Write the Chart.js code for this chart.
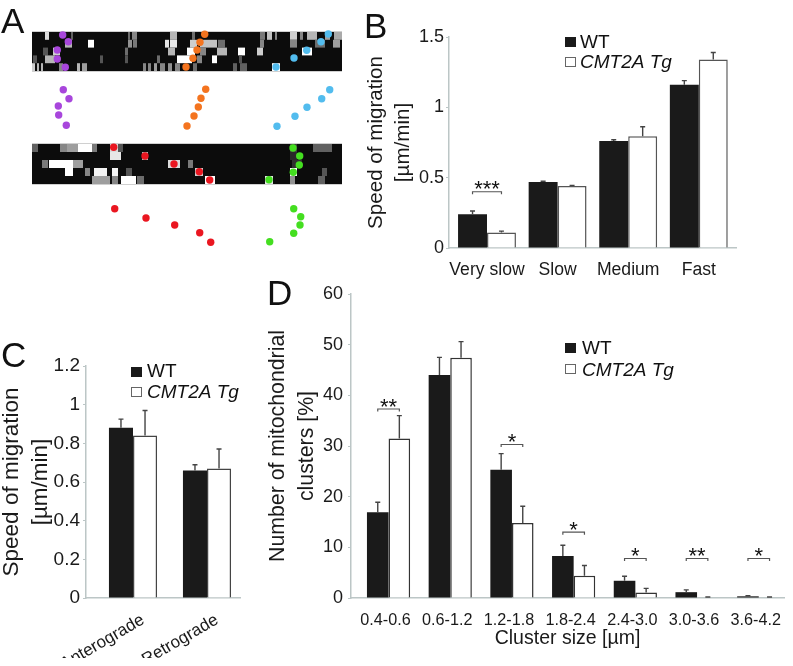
<!DOCTYPE html>
<html>
<head>
<meta charset="utf-8">
<script src="https://cdn.jsdelivr.net/npm/chart.js@4/dist/chart.umd.min.js"></script>
<style>
body { margin: 0; background: #fff; }
canvas { position: absolute; left: 0; top: 0; }
</style>
</head>
<body>
<canvas id="panelA" width="793" height="666"></canvas>
<canvas id="panelB" width="793" height="666"></canvas>
<canvas id="panelC" width="793" height="666"></canvas>
<canvas id="panelD" width="793" height="666"></canvas>
<script>
// panel B
const bCategories = ['Very slow', 'Slow', 'Medium', 'Fast'];
const bWT = [0.24, 0.47, 0.76, 1.16];
const bTg = [0.11, 0.44, 0.795, 1.34];
const bWTTop = [0.263, 0.475, 0.77, 1.19];
const bTgTop = [0.12, 0.445, 0.862, 1.39];
const bTicks = [0, 0.5, 1, 1.5];
const bSigCats = [0];
const bSigLevels = [0.4];
const bSigLabels = ['***'];

// panel C
const cCategories = ['Anterograde', 'Retrograde'];
const cWT = [0.88, 0.66];
const cTg = [0.84, 0.67];
const cWTTop = [0.925, 0.689];
const cTgTop = [0.97, 0.771];
const cTicks = [0, 0.2, 0.4, 0.6, 0.8, 1, 1.2];

// panel D
const dCategories = ['0.4-0.6', '0.6-1.2', '1.2-1.8', '1.8-2.4', '2.4-3.0', '3.0-3.6', '3.6-4.2'];
const dWT = [16.9, 44, 25.3, 8.3, 3.4, 1.15, 0.33];
const dTg = [31.5, 47.4, 14.8, 4.4, 1.1, 0.1, 0.1];
const dWTTop = [18.9, 47.5, 28.5, 10.4, 4.3, 1.6, 0.45];
const dTgTop = [36, 50.6, 18.1, 6.4, 1.9, 0.2, 0.2];
const dTicks = [0, 10, 20, 30, 40, 50, 60];
const dSigCats = [0, 2, 3, 4, 5, 6];
const dSigLevels = [37.3, 30.3, 13, 7.8, 7.8, 7.8];
const dSigLabels = ['**', '*', '*', '*', '**', '*'];

// panel A, tracked dots: position along the axon, time
const purpleTop = [[30.7, 5], [36.3, 11.7], [25.3, 20], [25.3, 29], [33.3, 37.3]];
const purpleLow = [[31.3, 59.7], [37, 68.7], [26.3, 76], [26.7, 85], [34.3, 95.3]];
const orangeTop = [[172.7, 4.3], [168, 12.3], [165, 20], [161, 28.3], [154, 37]];
const orangeLow = [[173.7, 59.3], [169, 68.3], [166.3, 77], [162, 86], [155, 96]];
const blueTop = [[296.3, 4], [289, 11.7], [274.7, 20.3], [262, 28], [244, 37]];
const blueLow = [[297.7, 59.7], [289.7, 68.7], [275, 77.3], [263, 86.3], [245, 96.3]];
const redTop = [[81.7, 117.3], [113, 126], [142, 134], [167.3, 141.7], [177.7, 150]];
const redLow = [[82.7, 178.7], [114, 188], [142.7, 195], [167.7, 202.7], [178.7, 212.3]];
const greenTop = [[261, 118], [267.7, 126], [267.3, 135], [261.3, 142.3], [237, 149.7]];
const greenLow = [[261.7, 178.7], [268.7, 186.7], [268, 195], [261.7, 203.3], [237.7, 211.7]];

// kymograph cells: row, from, to, grey level
const kymoTopRows = [2, 9.8, 17.6, 25.4, 33.2, 41];
const kymoTop = [
  [0, 13, 17, .85], [0, 39, 41, .35], [0, 96, 98, .4], [0, 100, 105, .5], [0, 138, 145, .7], [0, 160, 163, .4], [0, 228, 233, .45], [0, 235, 240, .75], [0, 243, 245, .5], [0, 258, 265, .8], [0, 268, 271, .5], [0, 275, 285, .7], [0, 293, 298, .6], [0, 302, 310, .65],
  [1, 33, 40, .7], [1, 56, 62, 1], [1, 96, 100, .55], [1, 101, 105, .45], [1, 133, 137, .9], [1, 138, 145, .9], [1, 158, 165, .8], [1, 168, 185, .75], [1, 186, 193, .4], [1, 228, 232, .5], [1, 258, 265, .5], [1, 283, 293, .4], [1, 301, 308, .6],
  [2, 11, 16, .3], [2, 21, 28, .8], [2, 93, 96, .4], [2, 136, 143, .7], [2, 155, 163, 1], [2, 168, 174, .5], [2, 185, 195, .7], [2, 206, 213, 1], [2, 225, 231, .8], [2, 270, 280, 1],
  [3, 1, 5, .3], [3, 13, 23, .7], [3, 68, 71, .3], [3, 93, 96, .3], [3, 125, 128, .4], [3, 145, 160, 1], [3, 180, 185, 1], [3, 165, 170, .5], [3, 207, 210, .3],
  [4, 0, 3, .8], [4, 5, 7, .7], [4, 9, 11, .7], [4, 27, 31, .5], [4, 45, 48, .7], [4, 50, 55, .6], [4, 111, 114, .5], [4, 116, 119, .5], [4, 122, 125, .6], [4, 128, 133, .5], [4, 136, 140, .55], [4, 143, 148, .5], [4, 161, 165, .4], [4, 201, 205, .35], [4, 208, 215, .35], [4, 240, 248, 1]
];
const kymoLowRows = [114, 122, 130, 138, 146, 154];
const kymoLow = [
  [0, 0, 6, .35], [0, 28, 35, .5], [0, 35, 46, .6], [0, 46, 60, 1], [0, 60, 65, .45], [0, 78, 86, .85], [0, 86, 91, .3], [0, 258, 265, .2], [0, 281, 300, .35],
  [1, 78, 89, .9], [1, 110, 116, .7], [1, 258, 265, .12],
  [2, 10, 16, .45], [2, 17, 41, 1], [2, 41, 51, .6], [2, 136, 148, .85], [2, 156, 161, .45], [2, 260, 270, .15],
  [3, 33, 41, 1], [3, 53, 58, .5], [3, 62, 75, .95], [3, 80, 86, .95], [3, 94, 100, .3], [3, 163, 171, .8], [3, 258, 265, 1], [3, 290, 295, .3],
  [4, 60, 78, .6], [4, 80, 86, .5], [4, 89, 104, 1], [4, 105, 112, .4], [4, 173, 183, 1], [4, 233, 241, .9], [4, 258, 263, .55], [4, 286, 293, .35]
];

const fontName = '"Liberation Sans", Arial, sans-serif';
const inkColor = '#1a1a1a';
const axisColor = '#bcc6c6';
Chart.defaults.font.family = fontName;
Chart.defaults.color = inkColor;

function kymoPlugin() {
  return {
    id: 'kymo',
    beforeDatasetsDraw(chart) {
      const { ctx, scales: { x, y } } = chart;
      ctx.save();
      ctx.filter = 'blur(0.7px)';
      [[kymoTopRows, kymoTop], [kymoLowRows, kymoLow]].forEach(([rows, cells]) => {
        const top = y.getPixelForValue(rows[0]);
        const bottom = y.getPixelForValue(rows[rows.length - 1]);
        ctx.fillStyle = '#d0d0d0';
        ctx.fillRect(x.left, top - 1, x.width, bottom - top + 2);
        ctx.fillStyle = '#0c0c0c';
        ctx.fillRect(x.left, top, x.width, bottom - top);
        cells.forEach(([row, from, to, grey]) => {
          const level = Math.round(12 + grey * 243);
          ctx.fillStyle = `rgb(${level},${level},${level})`;
          const y0 = y.getPixelForValue(rows[row]);
          const y1 = y.getPixelForValue(rows[row + 1]);
          const x0 = x.getPixelForValue(from);
          ctx.fillRect(x0, y0, x.getPixelForValue(to) - x0, y1 - y0);
        });
      });
      ctx.restore();
    }
  };
}

// panel letter and hand drawn legend, both sit outside the chart area
function decorPlugin(p) {
  return {
    id: 'decor',
    afterDraw(chart) {
      const ctx = chart.ctx;
      ctx.save();
      ctx.fillStyle = '#111';
      ctx.font = `35px ${fontName}`;
      ctx.fillText(p.letter, p.letterX, p.letterY);
      if (p.legend) {
        const l = p.legend;
        ctx.fillStyle = inkColor;
        ctx.fillRect(l.x, l.y1, 11, 10);
        ctx.fillStyle = '#fff';
        ctx.strokeStyle = '#666';
        ctx.lineWidth = 1;
        ctx.fillRect(l.x, l.y2, 10.5, 10);
        ctx.strokeRect(l.x + .5, l.y2 + .5, 10, 9);
        ctx.fillStyle = '#111';
        ctx.font = `${l.size}px ${fontName}`;
        ctx.fillText('WT', l.textX, l.base1);
        ctx.font = `italic ${l.size}px ${fontName}`;
        ctx.fillText('CMT2A Tg', l.textX, l.base2);
      }
      ctx.restore();
    }
  };
}

// axis lines start and stop where the figure has them, not at the chart area
function axisPlugin(p) {
  return {
    id: 'axisSpan',
    afterLayout(chart) {
      const { x, y } = chart.scales;
      const shift = p.axisLeft - chart.chartArea.left;
      y.left += shift;
      y.right += shift;
      x.left = p.axisLeft;
      x.right = p.axisRight;
    }
  };
}

function errorPlugin(tops) {
  return {
    id: 'errorBars',
    afterDatasetsDraw(chart) {
      const { ctx, scales: { y } } = chart;
      ctx.save();
      ctx.strokeStyle = '#444';
      ctx.lineWidth = 1.4;
      tops.forEach((series, d) => {
        chart.getDatasetMeta(d).data.forEach((bar, i) => {
          const yTop = y.getPixelForValue(series[i]);
          ctx.beginPath();
          ctx.moveTo(bar.x, bar.y);
          ctx.lineTo(bar.x, yTop);
          ctx.moveTo(bar.x - 2.5, yTop);
          ctx.lineTo(bar.x + 2.5, yTop);
          ctx.stroke();
        });
      });
      ctx.restore();
    }
  };
}

function sigPlugin(cats, levels, labels) {
  return {
    id: 'sigBrackets',
    afterDatasetsDraw(chart) {
      const { ctx, scales: { y } } = chart;
      ctx.save();
      cats.forEach((cat, i) => {
        const x0 = chart.getDatasetMeta(0).data[cat].x;
        const x1 = chart.getDatasetMeta(1).data[cat].x;
        const yy = y.getPixelForValue(levels[i]);
        ctx.strokeStyle = '#555';
        ctx.lineWidth = 1.2;
        ctx.beginPath();
        ctx.moveTo(x0, yy + 2.5);
        ctx.lineTo(x0, yy);
        ctx.lineTo(x1, yy);
        ctx.lineTo(x1, yy + 2.5);
        ctx.stroke();
        ctx.fillStyle = '#111';
        ctx.font = `22px ${fontName}`;
        ctx.textAlign = 'center';
        ctx.fillText(labels[i], (x0 + x1) / 2, yy + 4.5);
      });
      ctx.restore();
    }
  };
}

function barPanel(id, p) {
  const plugins = [axisPlugin(p), errorPlugin([p.wtTop, p.tgTop]), decorPlugin(p)];
  if (p.sig) plugins.push(sigPlugin(p.sig[0], p.sig[1], p.sig[2]));
  return new Chart(document.getElementById(id), {
    type: 'bar',
    data: {
      labels: p.categories,
      datasets: [
        { label: 'WT', data: p.wt, backgroundColor: inkColor, borderWidth: 0 },
        { label: 'CMT2A Tg', data: p.tg, backgroundColor: '#fff', borderColor: p.tgEdge, borderWidth: 1.5 }
      ]
    },
    plugins,
    options: {
      responsive: false,
      animation: false,
      events: [],
      categoryPercentage: p.groupShare,
      barPercentage: 1,
      layout: { padding: { left: p.areaLeft - p.yWidth, right: 793 - p.areaRight, top: p.areaTop, bottom: 666 - p.areaBottom - p.xHeight } },
      plugins: { legend: { display: false }, tooltip: { enabled: false } },
      scales: {
        x: {
          afterFit(s) { s.height = p.xHeight; },
          grid: { display: false },
          border: { color: axisColor, width: 1.5 },
          ticks: { font: { size: p.xSize }, padding: p.xPad, autoSkip: false, maxRotation: p.rotate, minRotation: p.rotate, labelOffset: p.labelOffset, color: inkColor },
          title: p.xTitle ? { display: true, text: p.xTitle, font: { size: 19.5 }, padding: 0, color: inkColor } : { display: false }
        },
        y: {
          min: p.ticks[0],
          max: p.ticks[p.ticks.length - 1],
          afterFit(s) { s.width = p.yWidth; },
          afterBuildTicks(s) { s.ticks = p.ticks.map(v => ({ value: v })); },
          grid: { drawOnChartArea: false, tickLength: 3, tickColor: axisColor, tickWidth: 1.2 },
          border: { color: axisColor, width: 1.5 },
          ticks: { font: { size: p.ySize }, padding: p.yPad, callback: v => String(v), color: inkColor },
          title: { display: true, text: p.yTitle, font: { size: p.titleSize, lineHeight: p.titleLine }, padding: 0, color: inkColor }
        }
      }
    }
  });
}

function dotSet(points, color) {
  return {
    data: points.map(([x, y]) => ({ x, y })),
    backgroundColor: color,
    borderWidth: 0,
    pointRadius: 3.7
  };
}

new Chart(document.getElementById('panelA'), {
  type: 'scatter',
  data: {
    datasets: [
      dotSet(purpleTop, '#a846dc'), dotSet(purpleLow, '#a846dc'),
      dotSet(orangeTop, '#f4741f'), dotSet(orangeLow, '#f4741f'),
      dotSet(blueTop, '#52bcee'), dotSet(blueLow, '#52bcee'),
      dotSet(redTop, '#ea1620'), dotSet(redLow, '#ea1620'),
      dotSet(greenTop, '#44de20'), dotSet(greenLow, '#44de20')
    ]
  },
  plugins: [kymoPlugin(), decorPlugin({ letter: 'A', letterX: 1, letterY: 33 })],
  options: {
    responsive: false,
    animation: false,
    events: [],
    layout: { padding: { left: 32, right: 451, top: 30, bottom: 416 } },
    plugins: { legend: { display: false }, tooltip: { enabled: false } },
    scales: {
      x: { type: 'linear', display: false, min: 0, max: 310 },
      y: { type: 'linear', display: false, min: 0, max: 220, reverse: true }
    }
  }
});

barPanel('panelB', {
  categories: bCategories, wt: bWT, tg: bTg, wtTop: bWTTop, tgTop: bTgTop, ticks: bTicks,
  sig: [bSigCats, bSigLevels, bSigLabels],
  axisLeft: 449, axisRight: 736, areaLeft: 451.7, areaRight: 734.1, areaTop: 37, areaBottom: 248,
  yWidth: 86.5, xHeight: 40, groupShare: 0.82, tgEdge: '#555',
  xSize: 17.6, xPad: 4, rotate: 0, labelOffset: 0,
  ySize: 18, yPad: 2, yTitle: ['Speed of migration', '[µm/min]'], titleSize: 20.6, titleLine: 1.31,
  letter: 'B', letterX: 364, letterY: 38,
  legend: { x: 565, y1: 37, y2: 57, textX: 580, base1: 48, base2: 68, size: 19 }
});

barPanel('panelC', {
  categories: cCategories, wt: cWT, tg: cTg, wtTop: cWTTop, tgTop: cTgTop, ticks: cTicks,
  axisLeft: 86, axisRight: 240, areaLeft: 96, areaRight: 244, areaTop: 366, areaBottom: 598,
  yWidth: 89, xHeight: 60, groupShare: 0.65, tgEdge: '#444',
  xSize: 17, xPad: 4, rotate: 30, labelOffset: 10,
  ySize: 19, yPad: 3, yTitle: ['Speed of migration', '[µm/min]'], titleSize: 22.5, titleLine: 1.29,
  letter: 'C', letterX: 1, letterY: 367,
  legend: { x: 131, y1: 367, y2: 387, textX: 147, base1: 377, base2: 398, size: 19 }
});

barPanel('panelD', {
  categories: dCategories, wt: dWT, tg: dTg, wtTop: dWTTop, tgTop: dTgTop, ticks: dTicks,
  sig: [dSigCats, dSigLevels, dSigLabels],
  axisLeft: 351, axisRight: 784, areaLeft: 357.7, areaRight: 789.6, areaTop: 294, areaBottom: 598,
  yWidth: 87.5, xHeight: 52, groupShare: 0.7, tgEdge: '#333',
  xSize: 16.2, xPad: 5, rotate: 0, labelOffset: -3,
  ySize: 18, yPad: 5, yTitle: ['Number of mitochondrial', 'clusters [%]'], titleSize: 21.3, titleLine: 1.36,
  xTitle: 'Cluster size [µm]',
  letter: 'D', letterX: 267, letterY: 305,
  legend: { x: 565, y1: 343, y2: 364, textX: 582, base1: 354, base2: 376, size: 19 }
});
</script>
</body>
</html>
